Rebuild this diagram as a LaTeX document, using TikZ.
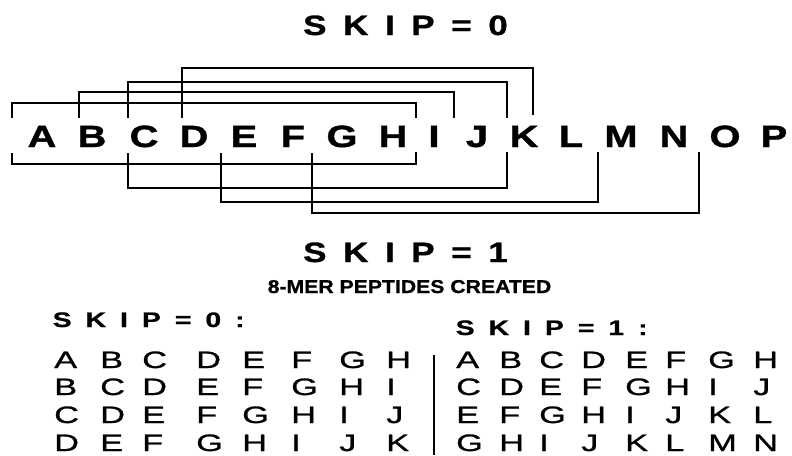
\documentclass[tikz,border=0pt]{standalone}
\usepackage{fontspec}
\setmainfont{Liberation Sans}
\newfontfamily\widebold{Liberation Sans}[FakeStretch=1.25,FakeBold=1]
\newfontfamily\headbold{Liberation Sans}[FakeStretch=1.35,FakeBold=0.8]
\newfontfamily\rowbold{Liberation Sans}[FakeStretch=1.3,FakeBold=1.2]
\newfontfamily\subbold{Liberation Sans}[FakeStretch=1.14,FakeBold=0.8]
\newfontfamily\tblfont{Liberation Sans}[FakeStretch=1.45,FakeBold=1]
\newcommand\lgap{\kern16.6pt}
\newcommand\sgap{\kern14pt}
\tikzset{
  bigtitle/.style={anchor=base west, inner sep=0pt, font={\widebold\bfseries\fontsize{28}{30}\selectfont}},
  subtitle/.style={anchor=base, inner sep=0pt, font={\subbold\bfseries\fontsize{18.6}{20}\selectfont}},
  listhead/.style={anchor=base west, inner sep=0pt, font={\headbold\bfseries\fontsize{21}{23}\selectfont}},
  letter/.style={anchor=base, inner sep=0pt, font={\rowbold\bfseries\fontsize{30.7}{32}\selectfont}},
  tbl/.style={anchor=base west, inner sep=0pt, font={\tblfont\fontsize{23.7}{25}\selectfont}},
  bracket/.style={draw=black, line width=1.4pt},
  divider/.style={draw=black, line width=1.1pt}
}
\begin{document}
\begin{tikzpicture}[x=1pt,y=-1pt]
\useasboundingbox (0,0) rectangle (792,455);
\fill[white] (0,0) rectangle (792,455);

% titles
\node[bigtitle] (t0) at (303,35) {S\lgap K\lgap I\lgap P\lgap =\lgap 0};
\node[bigtitle] (t1) at (303,262) {S\lgap K\lgap I\lgap P\lgap =\lgap 1};
\node[subtitle] (sub) at (409.5,293) {8-MER PEPTIDES CREATED};

% sequence row
\foreach \ch/\xx in {A/42,B/92,C/144,D/194,E/244,F/293,G/342,H/393,I/434,J/477,K/524,L/571,M/621,N/674,O/725,P/774}
  \node[letter] (\ch) at (\xx,147) {\ch};

% bracket end points (top, skip = 0)
\coordinate (tA) at (12,118);  \coordinate (tH) at (416,118);
\coordinate (tB) at (79,118);  \coordinate (tI) at (454,118);
\coordinate (tC) at (128,118); \coordinate (tJ) at (507,118);
\coordinate (tD) at (182,118); \coordinate (tK) at (533,115);
\draw[bracket] (tA) -- ++(0,-15) -| (tH);
\draw[bracket] (tB) -- ++(0,-26) -| (tI);
\draw[bracket] (tC) -- ++(0,-36) -| (tJ);
\draw[bracket] (tD) -- ++(0,-50) -| (tK);

% bracket end points (bottom, skip = 1)
\coordinate (bA) at (12,153);  \coordinate (bH) at (416,152);
\coordinate (bC) at (128,153); \coordinate (bJ) at (507,152);
\coordinate (bE) at (221,153); \coordinate (bL) at (598,152);
\coordinate (bG) at (312,153); \coordinate (bN) at (699,152);
\draw[bracket] (bA) -- ++(0,11) -| (bH);
\draw[bracket] (bC) -- ++(0,35) -| (bJ);
\draw[bracket] (bE) -- ++(0,49) -| (bL);
\draw[bracket] (bG) -- ++(0,60) -| (bN);

% list headings
\node[listhead] (h0) at (52.5,327) {S\sgap K\sgap I\sgap P\sgap =\sgap 0\sgap :};
\node[listhead] (h1) at (455.5,335) {S\sgap K\sgap I\sgap P\sgap =\sgap 1\sgap :};

% skip = 0 list
\foreach \ch/\xx [count=\c] in {A/54,B/100,C/142,D/196,E/242,F/291,G/339,H/386}
  \node[tbl] (La\c) at (\xx,368) {\ch};
\foreach \ch/\xx [count=\c] in {B/54,C/100,D/142,E/196,F/242,G/291,H/339,I/386}
  \node[tbl] (Lb\c) at (\xx,395) {\ch};
\foreach \ch/\xx [count=\c] in {C/54,D/100,E/142,F/196,G/242,H/291,I/339,J/386}
  \node[tbl] (Lc\c) at (\xx,423) {\ch};
\foreach \ch/\xx [count=\c] in {D/54,E/100,F/142,G/196,H/242,I/291,J/339,K/386}
  \node[tbl] (Ld\c) at (\xx,451) {\ch};

% divider
\coordinate (d1) at (434,355);
\coordinate (d2) at (434,455);
\draw[divider] (d1) -- (d2);

% skip = 1 list
\foreach \ch/\xx [count=\c] in {A/456,B/499,C/539,D/581,E/625,F/665,G/708,H/753}
  \node[tbl] (Ra\c) at (\xx,368) {\ch};
\foreach \ch/\xx [count=\c] in {C/456,D/499,E/539,F/581,G/625,H/665,I/708,J/753}
  \node[tbl] (Rb\c) at (\xx,395) {\ch};
\foreach \ch/\xx [count=\c] in {E/456,F/499,G/539,H/581,I/625,J/665,K/708,L/753}
  \node[tbl] (Rc\c) at (\xx,423) {\ch};
\foreach \ch/\xx [count=\c] in {G/456,H/499,I/539,J/581,K/625,L/665,M/708,N/753}
  \node[tbl] (Rd\c) at (\xx,451) {\ch};
\end{tikzpicture}
\end{document}
